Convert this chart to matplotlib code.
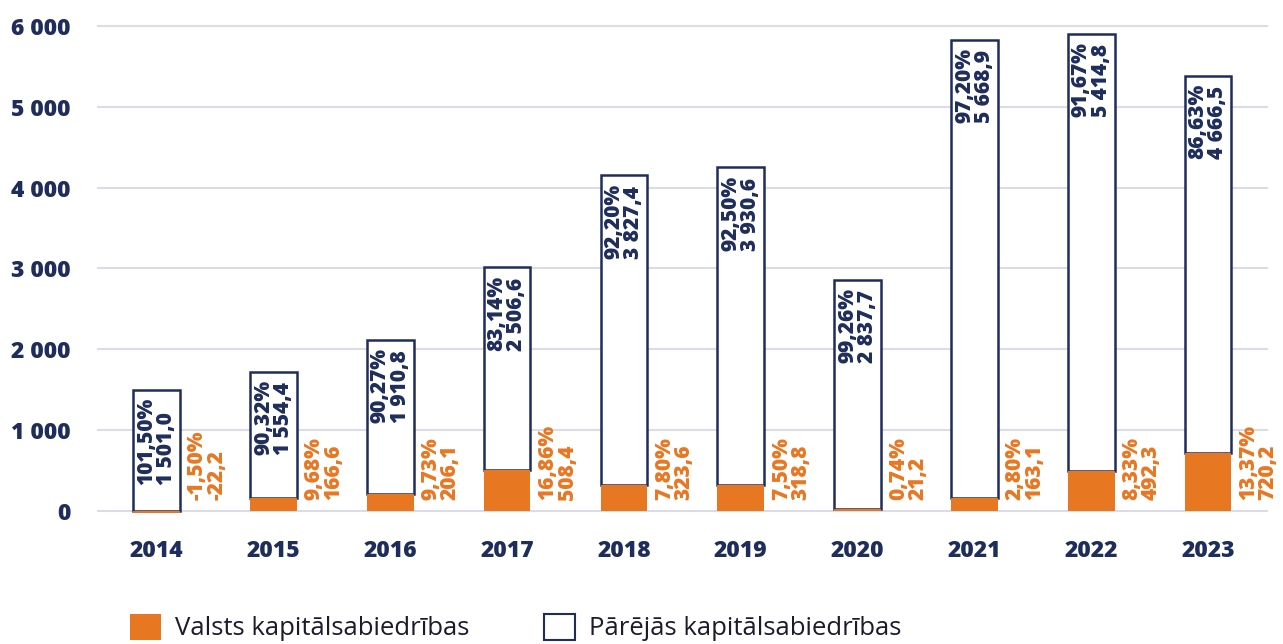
import matplotlib
matplotlib.use("Agg")
import matplotlib.pyplot as plt
from matplotlib.patches import Patch
import numpy as np

years = ["2014", "2015", "2016", "2017", "2018", "2019", "2020", "2021", "2022", "2023"]
valsts = [-22.2, 166.6, 206.1, 508.4, 323.6, 318.8, 21.2, 163.1, 492.3, 720.2]
valsts_pct = [-1.50, 9.68, 9.73, 16.86, 7.80, 7.50, 0.74, 2.80, 8.33, 13.37]
parejas = [1501.0, 1554.4, 1910.8, 2506.6, 3827.4, 3930.6, 2837.7, 5668.9, 5414.8, 4666.5]
parejas_pct = [101.50, 90.32, 90.27, 83.14, 92.20, 92.50, 99.26, 97.20, 91.67, 86.63]
yticks = [0, 1000, 2000, 3000, 4000, 5000, 6000]

NAVY = "#1f2d5c"
ORANGE = "#e87722"
GRID = "#dcdce6"
FONT = ["Open Sans", "DejaVu Sans"]
HEAVY = 800


def fmt_num(v, dec=1):
    s = f"{abs(v):,.{dec}f}".replace(",", " ").replace(".", ",")
    return ("-" if v < 0 else "") + s


def fmt_pct(v):
    return f"{v:.2f}".replace(".", ",") + "%"


plt.rcParams["font.family"] = FONT

fig = plt.figure(figsize=(12.83, 6.44), dpi=100)
ax = fig.add_axes([0.0756, 0.1689, 0.9124, 0.7945])

x = np.arange(len(years))
w = 0.40
bottoms = [max(v, 0) for v in valsts]

ax.bar(x, parejas, w, bottom=bottoms, color="white", edgecolor=NAVY, linewidth=1.8, zorder=2)
ax.bar(x, valsts, w, color=ORANGE, linewidth=0, zorder=3)

for i in range(len(years)):
    top = bottoms[i] + parejas[i]
    ax.annotate(fmt_pct(parejas_pct[i]) + "\n" + fmt_num(parejas[i]),
                xy=(x[i], top), xytext=(0, -6), textcoords="offset points",
                rotation=90, ha="center", va="top", multialignment="left",
                fontsize=15, fontweight=HEAVY, color=NAVY, linespacing=0.92, zorder=4)
    ax.annotate(fmt_pct(valsts_pct[i]) + "\n" + fmt_num(valsts[i]),
                xy=(x[i] + w / 2, 0), xytext=(5, 8), textcoords="offset points",
                rotation=90, ha="left", va="bottom", multialignment="left",
                fontsize=15, fontweight=HEAVY, color=ORANGE, linespacing=0.9, zorder=4)

ax.set_xlim(-0.51, 9.51)
ax.set_ylim(-300, 6030)
ax.set_xticks(x)
ax.set_xticklabels(years, fontsize=16.5, fontweight=HEAVY, color=NAVY)
ax.set_yticks(yticks)
ax.set_yticklabels([fmt_num(t, 0) for t in yticks], fontsize=16.5, fontweight=HEAVY, color=NAVY)
ax.tick_params(axis="both", length=0)
ax.tick_params(axis="y", pad=19)
ax.tick_params(axis="x", pad=3)
ax.yaxis.grid(True, color=GRID, linewidth=1.5, zorder=0)
ax.set_axisbelow(True)
for s in ax.spines.values():
    s.set_visible(False)

handles = [Patch(facecolor=ORANGE, edgecolor=ORANGE, linewidth=0),
           Patch(facecolor="white", edgecolor=NAVY, linewidth=1.5)]
fig.legend(handles, ["Valsts kapitālsabiedrības", "Pārējās kapitālsabiedrības"],
           loc="lower left", bbox_to_anchor=(130 / 1283, 0.004), ncol=2, frameon=False,
           borderpad=0, borderaxespad=0, handlelength=1.2, handleheight=1.2,
           handletextpad=0.55, columnspacing=2.9,
           prop={"family": FONT, "size": 18.5},
           labelcolor="#1b1b2b")

fig.savefig("out.png", dpi=100)
